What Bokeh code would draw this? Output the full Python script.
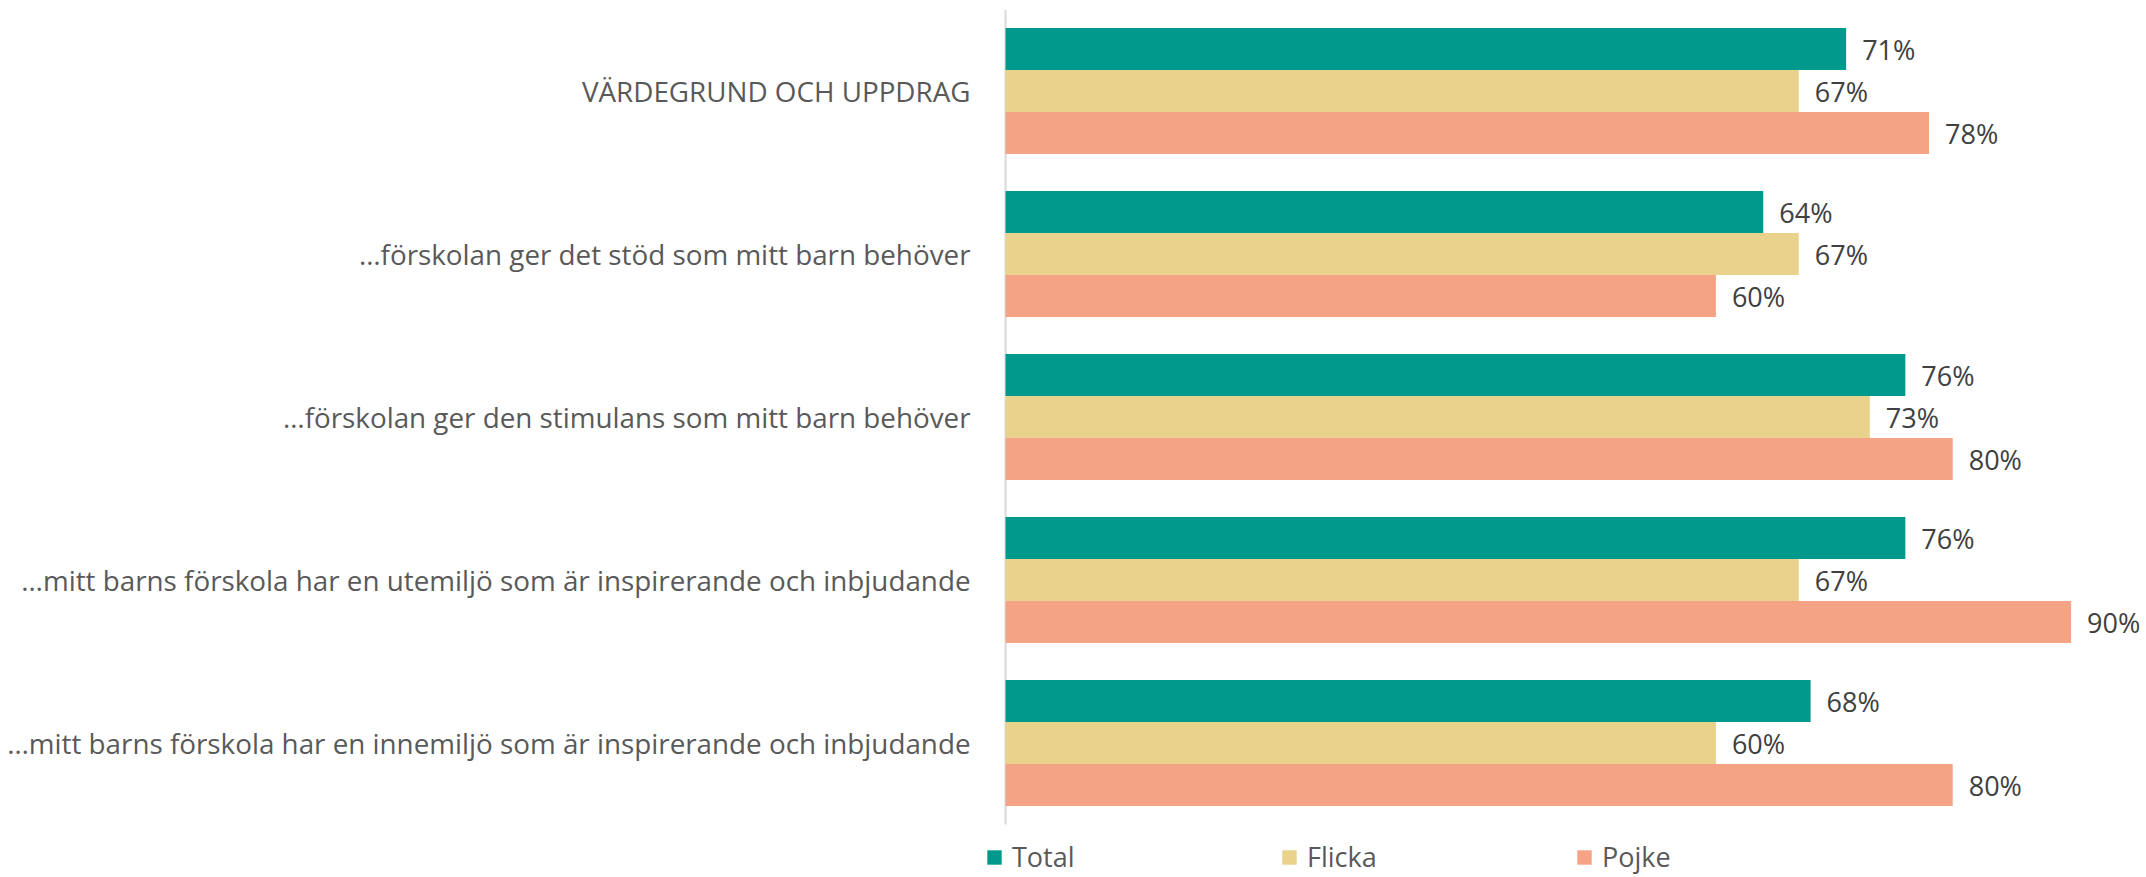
from bokeh.plotting import figure
from bokeh.models import Range1d, ColumnDataSource, Legend, LegendItem, FixedTicker
from bokeh.core.properties import value
from bokeh.embed import file_html
from bokeh.resources import INLINE

categories = [
    "VÄRDEGRUND OCH UPPDRAG",
    "…förskolan ger det stöd som mitt barn behöver",
    "…förskolan ger den stimulans som mitt barn behöver",
    "…mitt barns förskola har en utemiljö som är inspirerande och inbjudande",
    "…mitt barns förskola har en innemiljö som är inspirerande och inbjudande",
]
series_names = ["Total", "Flicka", "Pojke"]
total = [71, 64, 76, 76, 68]
flicka = [67, 67, 73, 67, 60]
pojke = [78, 60, 80, 90, 80]

colors = ["#02998D", "#E9D28B", "#F4A384"]
FONT = "Open Sans"

n = len(categories)
ypos = [n - 0.5 - i for i in range(n)]
band = 42 / 163.0
px_per_unit = 11.84

p = figure(
    width=2146, height=877,
    x_range=Range1d(-25 / px_per_unit, 1141 / px_per_unit),
    y_range=Range1d(n - 868 / 163.0, n),
    x_axis_location=None,
    output_backend="svg", toolbar_location=None,
    min_border_left=980, min_border_right=0, min_border_top=9, min_border_bottom=0,
)
p.outline_line_color = None
p.xgrid.visible = False
p.ygrid.visible = False
p.background_fill_color = "white"
p.border_fill_color = "white"

ax = p.yaxis[0]
ax.ticker = FixedTicker(ticks=ypos)
ax.major_label_overrides = {float(y): c for y, c in zip(ypos, categories)}
ax.axis_line_color = None
ax.major_tick_line_color = None
ax.minor_tick_line_color = None
ax.major_tick_out = 0
ax.major_tick_in = 0
ax.major_label_standoff = 10
ax.major_label_text_font = FONT
ax.major_label_text_font_size = "27.8px"
ax.major_label_text_color = "#595959"

# category axis line along x = 0, spanning the category bands
p.segment(x0=[0], y0=[0], x1=[0], y1=[n], line_color="#D9D9D9", line_width=2)

offsets = [band, 0.0, -band]
items = []
for name, vals, col, off in zip(series_names, [total, flicka, pojke], colors, offsets):
    yy = [y + off for y in ypos]
    src = ColumnDataSource(dict(y=yy, val=vals, lab=[f"{v}%" for v in vals]))
    r = p.hbar(y="y", right="val", left=0, height=band, source=src,
               fill_color=col, line_color=None)
    p.text(x="val", y="y", text="lab", source=src,
           x_offset=16, text_baseline="middle", text_align="left",
           text_font=value(FONT), text_font_size="27px", text_color="#404040")
    items.append(LegendItem(label=name, renderers=[r]))

legend = Legend(items=items, orientation="horizontal", location=(5, 2),
                glyph_width=18, glyph_height=18, label_standoff=9,
                label_width=268, spacing=0, padding=0, margin=0,
                border_line_color=None, background_fill_alpha=0,
                label_text_font=FONT, label_text_font_size="27px",
                label_text_color="#595959")
p.add_layout(legend, "center")

open("out.html", "w").write(file_html(p, INLINE))
